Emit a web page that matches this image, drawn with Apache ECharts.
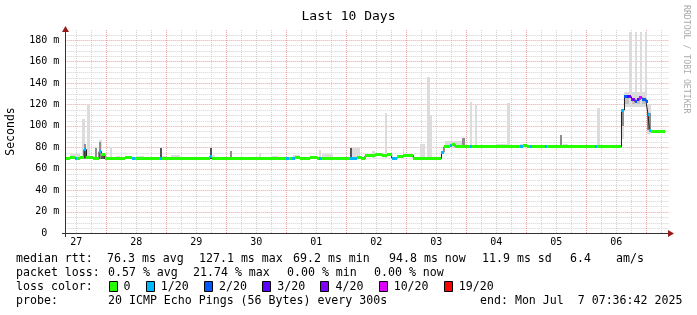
<!DOCTYPE html>
<html><head><meta charset="utf-8">
<script src="https://cdn.jsdelivr.net/npm/echarts@6/dist/echarts.min.js"></script>
<style>html,body{margin:0;padding:0;background:#fff}#c{width:697px;height:315px}</style>
</head><body><div id="c"></div>
<script>
// ---- axis / tick data (hours since Jun 27 00:00) ----
const dayLabels = ['27','28','29','30','01','02','03','04','05','06'];
const dayLabelHours = [12,36,60,84,108,132,156,180,204,228];
const gridMajorX = [24,48,72,96,120,144,168,192,216,240];
const gridMinorX = [12,18,30,36,42,54,60,66,78,84,90,102,108,114,126,132,138,150,156,162,174,180,186,198,204,210,222,228,234,246];
const gridMajorY = [20,40,60,80,100,120,140,160,180];
const gridMinorY = [5,10,15,25,30,35,45,50,55,65,70,75,85,90,95,105,110,115,125,130,135,145,150,155,165,170,175,185];
const START_T = 7.61, END_T = 247.61;

// ---- median rtt (ms) as steps: start hour, value, loss bucket ----
const medianT = [7.61,9.47,11.47,12.27,13.47,15.07,16.07,18.67,21.07,22.07,23.47,31.47,34.27,35.47,45.47,46.27,65.47,66.27,95.87,97.07,98.27,99.47,101.47,105.47,108.27,109.07,110.27,121.47,124.27,126.07,127.47,131.47,134.14,136.14,138.14,140.14,142.78,144.14,146.79,158.07,159.07,161.47,162.27,163.47,169.47,170.27,189.47,190.67,192.27,193.47,194.27,199.47,200.27,219.47,220.47,230.07,231.27,232.47,234.07,235.47,236.27,237.27,238.27,239.87,240.67,241.27,242.07];
const medianV = [69.5,70.5,69.5,69.5,70.5,78,70.5,69.5,76,73.5,69.5,70.5,69.5,69.5,69.5,69.5,71.5,69.5,69.5,69.5,69.5,70.5,69.5,70.5,69.5,69.5,69.5,69.5,70.8,69.3,72.1,73.7,72.7,73.7,70.1,71.8,72.9,72.5,69.8,75.5,80.6,81.3,82.9,80.6,80.6,80.6,80.6,82,80.6,80.6,80.6,80.6,80.6,80.6,80.6,114.8,127.2,127.2,125,122.3,124.3,126,125,122.8,111,95.5,95];
const medianLoss = [0,0,1,0,0,1,0,0,1,0,0,0,1,0,1,0,1,0,1,0,1,0,0,0,0,1,0,1,0,0,0,0,0,0,1,0,0,0,0,1,0,1,0,0,1,0,1,0,0,1,0,1,0,1,0,1,2,3,4,2,3,5,2,2,1,1,0];

// ---- smoke: start hour, end hour, low ms, high ms, shade ----
const smoke = [
 [9.47,13.47,69,73.5,0],[14.27,15.47,69,106,0],[15.07,16.07,69,83,2],[15.07,16.07,70,79,3],
 [16.27,17.47,69,120.3,0],[19.47,20.27,69,79,2],[21.07,22.27,69,87,0],[21.07,21.87,69,85.3,2],
 [22.07,23.47,69,73.5,3],[25.47,26.27,69,80.6,0],[27.87,29.47,69,72,0],[36.27,39.07,69,72,0],
 [45.47,46.27,69,79.7,3],[46.27,47.87,69,72,0],[49.87,53.47,69,73,0],[65.47,66.27,69,79.4,3],
 [66.27,67.47,69,72.5,0],[73.47,74.27,69,77,2],[85.07,85.87,69,75,0],[89.87,92.67,69,72,0],
 [98.67,101.47,69,72.5,0],[105.47,108.67,69,72,0],[109.07,109.87,69,77.5,0],[110.27,114.67,69,74,0],
 [121.47,122.27,69,79.5,3],[122.27,125.47,69,79.5,0],[130.27,131.47,70,76.5,0],[135.47,136.27,70,111.7,0],
 [142.67,143.07,70,78.5,0],[149.47,151.47,69,83,0],[152.27,153.47,69,146,0],[153.47,154.27,69,110,0],
 [159.47,166.27,80,86,0],[166.27,167.47,80,88.4,2],[169.47,170.27,80,122.5,0],[171.47,172.27,80,119.5,0],
 [173.47,177.47,80,82,0],[180.27,184.27,80,83,0],[184.27,185.47,80,121.6,0],[189.47,192.27,80,83,0],
 [195.47,199.47,80,82.5,0],[205.47,206.27,80,91.5,2],[206.67,208.67,80,83,0],[215.47,220.27,80,82,0],
 [220.27,221.47,80,116.4,0],[230.07,231.27,88,116,0],[230.07,231.27,100,114,2],
 [231.27,240.27,118,131.5,0],[231.27,240.27,120,126,1],
 [233.27,234.27,118,187.5,0],[235.47,236.27,118,187.5,0],[237.47,238.27,118,187,0],[239.47,240.27,118,187,0],
 [240.27,241.87,92,120,0],[240.27,241.87,96,112,2]
];

// ---- legend texts ----
const lossLabels = ['0','1/20','2/20','3/20','4/20','10/20','19/20'];
const lossColors = ['#26ff00','#00b8ff','#0059ff','#5e00ff','#7e00ff','#dd00ff','#ff0000'];
const rttStats = ['76.3 ms avg','127.1 ms max','69.2 ms min','94.8 ms now','11.9 ms sd','6.4','am/s'];
const lossStats = ['0.57 % avg','21.74 % max','0.00 % min','0.00 % now'];
const probeText = '20 ICMP Echo Pings (56 Bytes) every 300s';
const endText = 'end: Mon Jul  7 07:36:42 2025';

// ---- layout ----
const FONT = 'DejaVu Sans Mono';
const GRID = {left: 65.33, top: 30, width: 600, height: 203.3};
const Y_MAX = 189.3;
const smokeShades = ['#dcdcdc','#c0c0c0','#8e8e8e','#555555'];
const rttX = [107,199,293,389,482,570,616];
const lossX = [108,193,287,374];

const chart = echarts.init(document.getElementById('c'), null, {renderer:'canvas', width:697, height:315});

const stepData = medianT.map((t,i)=>[t, medianV[i]]).concat([[END_T, medianV[medianV.length-1]]]);
const stripData = medianT.map((t,i)=>[t, i+1<medianT.length?medianT[i+1]:END_T, medianV[i], medianLoss[i]]);
const gridData = [].concat(
  gridMinorX.map(v=>[0,v,0]), gridMinorY.map(v=>[1,v,0]),
  gridMajorX.map(v=>[0,v,1]), gridMajorY.map(v=>[1,v,1]));

function renderGrid(params, api){
  const cs = params.coordSys;
  const vert = api.value(0)===0, v = api.value(1), major = api.value(2)===1;
  let shape;
  if (vert){ const x = Math.round(api.coord([v,0])[0]) + 0.5; shape={x1:x,y1:cs.y,x2:x,y2:cs.y+cs.height}; }
  else { const y = Math.round(api.coord([START_T, v])[1]) + 0.5; shape={x1:cs.x,y1:y,x2:cs.x+cs.width+3,y2:y}; }
  return {type:'line', shape, style:{stroke: major?'#eba3a3':'#d2d2d2', lineWidth:1, lineDash:[1,1]}};
}
function renderSmoke(params, api){
  const a = api.coord([api.value(0), api.value(3)]);
  const b = api.coord([api.value(1), api.value(2)]);
  const x = Math.round(a[0]), w = Math.max(1, Math.round(b[0]) - x);
  const y = Math.round(a[1]), h = Math.round(b[1]) - y;
  return {type:'rect', shape:{x, y, width:w, height:h}, style:{fill: smokeShades[api.value(4)]}};
}
function renderStrip(params, api){
  const a = api.coord([api.value(0), api.value(2)]);
  const b = api.coord([api.value(1), api.value(2)]);
  const x = Math.round(a[0]), w = Math.max(1, Math.round(b[0]) - x);
  const y = Math.round(a[1] - 1.5);
  return {type:'rect', shape:{x, y, width:w, height:3}, style:{fill: lossColors[api.value(3)]}};
}

const ax = GRID.left, ay = GRID.top + GRID.height;
const xAxisY = Math.round(ay) + 0.5, yAxisX = Math.round(ax) + 0.5;
const graphic = [
  {type:'line', shape:{x1:yAxisX, y1:31, x2:yAxisX, y2:237}, style:{stroke:'#333', lineWidth:1}, z:50},
  {type:'line', shape:{x1:62, y1:xAxisY, x2:669, y2:xAxisY}, style:{stroke:'#333', lineWidth:1}, z:50},
  {type:'polygon', shape:{points:[[yAxisX,26],[yAxisX-3.5,32],[yAxisX+3.5,32]]}, style:{fill:'#9a1b1b'}, z:51},
  {type:'polygon', shape:{points:[[674,xAxisY],[668,xAxisY-3.5],[668,xAxisY+3.5]]}, style:{fill:'#9a1b1b'}, z:51},
  {type:'text', x:11, y:131.5, rotation:Math.PI/2, style:{text:'Seconds', font:'11.5px '+FONT, fill:'#000', align:'center', verticalAlign:'middle'}},
  {type:'text', x:686, y:5, rotation:-Math.PI/2, style:{text:'RRDTOOL / TOBI OETIKER', font:'8.2px '+FONT, fill:'#aaaaaa', align:'left', verticalAlign:'middle'}},
  {type:'text', x:16, y:259, style:{text:'median rtt:', font:'11.6px '+FONT, fill:'#000', verticalAlign:'middle'}},
  {type:'text', x:16, y:273, style:{text:'packet loss:', font:'11.6px '+FONT, fill:'#000', verticalAlign:'middle'}},
  {type:'text', x:16, y:287, style:{text:'loss color:', font:'11.6px '+FONT, fill:'#000', verticalAlign:'middle'}},
  {type:'text', x:16, y:301, style:{text:'probe:', font:'11.6px '+FONT, fill:'#000', verticalAlign:'middle'}},
  {type:'text', x:108, y:301, style:{text:probeText, font:'11.6px '+FONT, fill:'#000', verticalAlign:'middle'}},
  {type:'text', x:480, y:301, style:{text:endText, font:'11.6px '+FONT, fill:'#000', verticalAlign:'middle'}}
];
rttStats.forEach((s,i)=>graphic.push({type:'text', x:rttX[i], y:259, style:{text:s, font:'11.6px '+FONT, fill:'#000', verticalAlign:'middle'}}));
lossStats.forEach((s,i)=>graphic.push({type:'text', x:lossX[i], y:273, style:{text:s, font:'11.6px '+FONT, fill:'#000', verticalAlign:'middle'}}));
let lx = 108.5;
lossLabels.forEach((s,i)=>{
  graphic.push({type:'rect', shape:{x:Math.round(lx)+0.5, y:281.5, width:8, height:10}, style:{fill:lossColors[i], stroke:'#000', lineWidth:1}});
  graphic.push({type:'text', x:lx+15, y:287, style:{text:s, font:'11.6px '+FONT, fill:'#000', verticalAlign:'middle'}});
  lx += 15 + s.length*6.98 + 15.3;
});

chart.setOption({
  animation:false,
  backgroundColor:'#ffffff',
  title:{text:'Last 10 Days', left:'center', top:5, textStyle:{fontFamily:FONT, fontSize:13, fontWeight:'normal', color:'#000'}},
  grid:{left:GRID.left, top:GRID.top, width:GRID.width, height:GRID.height},
  xAxis:{type:'value', min:START_T, max:END_T, axisLine:{show:false}, axisTick:{show:false}, splitLine:{show:false},
    axisLabel:{customValues:dayLabelHours, formatter:(v)=>dayLabels[dayLabelHours.indexOf(v)], fontFamily:FONT, fontSize:10, color:'#000', margin:4}},
  yAxis:{type:'value', min:0, max:Y_MAX, interval:20, axisLine:{show:false}, axisTick:{show:false}, splitLine:{show:false},
    axisLabel:{formatter:(v)=> v===0 ? '0  ' : (v%20===0 ? v+' m' : ''), fontFamily:FONT, fontSize:10, color:'#000', margin:6, showMaxLabel:false}},
  graphic: graphic,
  series:[
    {type:'custom', name:'grid', renderItem:renderGrid, data:gridData, z:1, silent:true, clip:false},
    {type:'custom', name:'smoke', renderItem:renderSmoke, data:smoke, z:2, silent:true, clip:true},
    {type:'line', name:'median', data:stepData, step:'end', showSymbol:false, symbol:'none', lineStyle:{color:'#1e1e1e', width:1}, z:3, silent:true},
    {type:'custom', name:'loss', renderItem:renderStrip, data:stripData, z:4, silent:true, clip:true}
  ]
});
</script></body></html>
